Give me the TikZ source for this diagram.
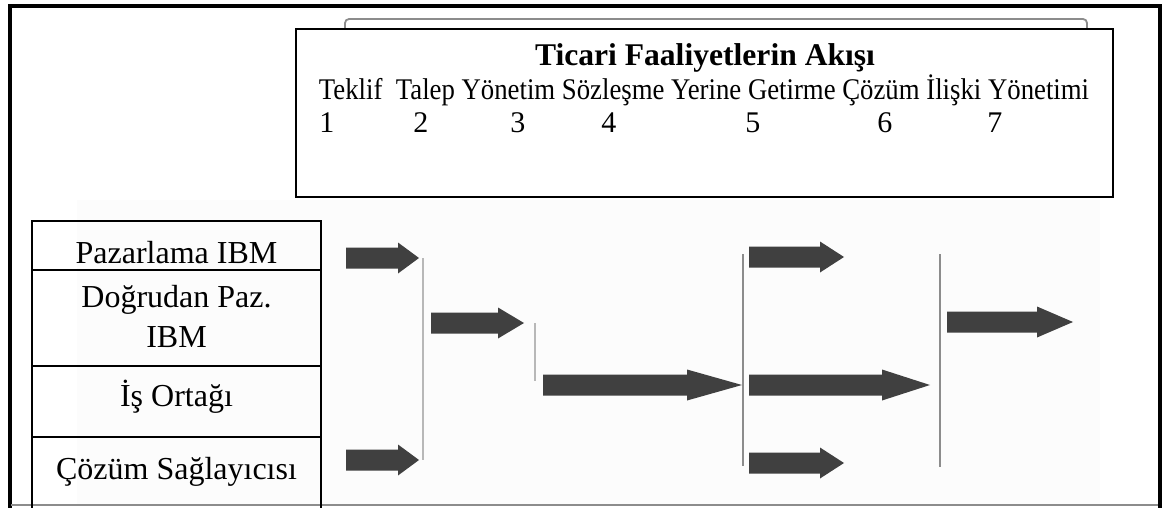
\documentclass[tikz,border=0pt]{standalone}
\usepackage{fontspec}
\setmainfont{Liberation Serif}
\usepackage{graphicx}
\usetikzlibrary{calc, positioning}
\definecolor{arrowGray}{gray}{0.25}
\definecolor{lineGray}{gray}{0.55}
\definecolor{lightLine}{gray}{0.72}
\definecolor{shadeGray}{gray}{0.99}

% block arrow: tail, tip, head length
\newcommand{\blockarrow}[3]{%
  \fill[arrowGray] ($(#1)+(0,-10.5)$) -- ($(#2)+(-#3,-10.5)$) -- ($(#2)+(-#3,-15.5)$) -- (#2)
    -- ($(#2)+(-#3,15.5)$) -- ($(#2)+(-#3,10.5)$) -- ($(#1)+(0,10.5)$) -- cycle;
}

\begin{document}
\begin{tikzpicture}[x=0.5pt, y=-0.5pt, line cap=butt,
    frame/.style={line width=2pt, black},
    cell/.style={line width=0.8pt, black},
    rowtext/.style={font=\fontsize{16}{20}\selectfont, anchor=base, inner sep=0pt, align=center}]
    \useasboundingbox (0,0) rectangle (1162,508);
    \fill[shadeGray] (77,200) rectangle (1100,504);

    % Outer frame
    \draw[frame] (9.5,508) -- (9.5,6) -- (1160,6) -- (1160,508);
    \draw[lineGray, line width=0.6pt] (11,505) -- (1158,505);

    % Title box
    \draw[lineGray, line width=0.9pt, rounded corners=2pt] (345,60) -- (345,19) -- (1087,19) -- (1087,60);
    \draw[line width=1pt, fill=white] (296,29) rectangle (1113,197);
    \node[anchor=base, inner sep=0pt, font=\fontsize{15.8}{19}\selectfont\bfseries] (title) at (705,66) {Ticari Faaliyetlerin Akışı};
    \node[anchor=base, inner sep=0pt, font=\fontsize{15}{18}\selectfont] (steps) at (704,100)
        {\resizebox{385pt}{\height}{Teklif\ \ Talep Yönetim Sözleşme Yerine Getirme Çözüm İlişki Yönetimi}};
    \foreach \k/\x in {1/319, 2/413, 3/510, 4/601, 5/745, 6/877, 7/987}
        \node[anchor=base west, inner sep=0pt, font=\fontsize{15}{18}\selectfont] (num\k) at (\x,133) {\k};

    % Table
    \draw[cell] (32,508) -- (32,221) -- (321,221) -- (321,508);
    \draw[cell] (32,270) -- (321,270);
    \draw[cell] (32,366) -- (321,366);
    \draw[cell] (32,437) -- (321,437);
    \node[rowtext] (pazarlama) at (176.5,263) {Pazarlama IBM};
    \node[rowtext] (dogrudan) at (176.5,347) {Doğrudan Paz.\\IBM};
    \node[rowtext] (isortagi) at (176.5,406) {İş Ortağı};
    \node[rowtext] (cozum) at (176.5,479) {Çözüm Sağlayıcısı};

    % Vertical bars
    \draw[lightLine, line width=0.8pt] (423,258) -- (423,460);
    \draw[lightLine, line width=0.8pt] (535,323) -- (535,381);
    \draw[lineGray, line width=0.9pt] (743,254) -- (743,466);
    \draw[lineGray, line width=0.9pt] (940,254) -- (940,467);

    % Arrows
    \foreach \n/\xs/\xe/\y/\h in {1/346/419/258/21, 2/346/419/460/21, 3/431/524/323/26,
        4/543/742/385/55, 5/749/844/257/24, 6/749/930/385/48, 7/749/844/463/24, 8/947/1073/322/36} {
        \coordinate (a\n s) at (\xs,\y);
        \coordinate (a\n e) at (\xe,\y);
        \blockarrow{a\n s}{a\n e}{\h}
    }
\end{tikzpicture}
\end{document}
